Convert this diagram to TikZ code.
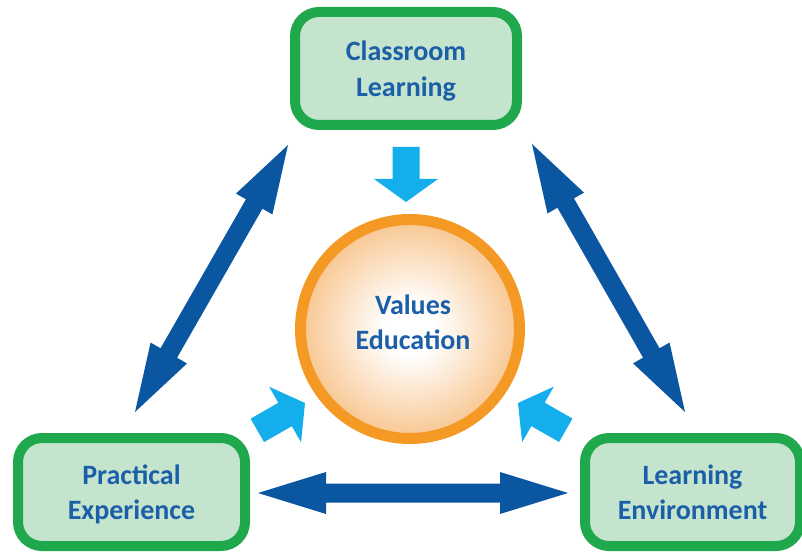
\documentclass[tikz,border=0pt]{standalone}
\usepackage{fontspec}
\setmainfont{Carlito}
\usetikzlibrary{calc}
\definecolor{boxgreen}{HTML}{20A84C}
\definecolor{boxfill}{HTML}{C4E4CD}
\definecolor{textblue}{HTML}{1B5FA8}
\definecolor{darkarrow}{HTML}{0B56A1}
\definecolor{lightarrow}{HTML}{13AEEB}
\definecolor{ringorange}{HTML}{F49A24}
\definecolor{peach}{HTML}{F8C690}
\pgfdeclareradialshading{glow}{\pgfpoint{0bp}{0bp}}{color(0bp)=(white); color(6bp)=(white); color(25bp)=(peach); color(50bp)=(peach)}
\tikzset{
  topic/.style={rectangle, rounded corners=24pt, draw=boxgreen, line width=10pt,
    fill=boxfill, align=center, text=textblue, inner sep=0pt, text depth=0pt,
    font=\bfseries\fontsize{28}{35.5}\selectfont},
  coretext/.style={align=center, text=textblue, inner sep=0pt,
    font=\bfseries\fontsize{28}{35}\selectfont},
  twowayfill/.style={fill=darkarrow},
  feedfill/.style={fill=lightarrow}
}
\newcommand\twoway[2]{%
  \fill[twowayfill] (#1)
    -- ($(#1)!68pt!(#2)!21pt!90:(#2)$)
    -- ($(#1)!68pt!(#2)!9.5pt!90:(#2)$)
    -- ($(#2)!68pt!(#1)!9.5pt!-90:(#1)$)
    -- ($(#2)!68pt!(#1)!21pt!-90:(#1)$)
    -- (#2)
    -- ($(#2)!68pt!(#1)!21pt!90:(#1)$)
    -- ($(#2)!68pt!(#1)!9.5pt!90:(#1)$)
    -- ($(#1)!68pt!(#2)!9.5pt!-90:(#2)$)
    -- ($(#1)!68pt!(#2)!21pt!-90:(#2)$)
    -- cycle;}
\newcommand\feedarrow[2]{%
  \fill[feedfill] (#1)
    -- ($(#1)!-23pt!(#2)!32pt!90:(#1)$)
    -- ($(#1)!-23pt!(#2)!13.5pt!90:(#1)$)
    -- ($(#1)!-55pt!(#2)!13.5pt!90:(#1)$)
    -- ($(#1)!-55pt!(#2)!13.5pt!-90:(#1)$)
    -- ($(#1)!-23pt!(#2)!13.5pt!-90:(#1)$)
    -- ($(#1)!-23pt!(#2)!32pt!-90:(#1)$)
    -- cycle;}
\begin{document}
\begin{tikzpicture}[x=1pt,y=-1pt]
\useasboundingbox (0,0) rectangle (802,553);
% boxes
\node[topic, minimum width=222pt, minimum height=113pt] (classroom) at (406,68.5) {Classroom\\Learning};
\node[topic, minimum width=227pt, minimum height=108pt] (practical) at (131.5,492) {Practical\\Experience};
\node[topic, minimum width=215pt, minimum height=108pt] (environment) at (692.5,492) {Learning\\Environment};
% centre circle
\node[circle, draw=ringorange, line width=11pt, minimum size=219pt, shading=glow, inner sep=0pt] (core) at (410,329) {};
\node[coretext] (corelabel) at (413,322.5) {Values\\Education};
% two-way arrows
\coordinate (l1) at (135,412);
\coordinate (l2) at (288,145);
\coordinate (r1) at (532,144);
\coordinate (r2) at (685,412);
\coordinate (h1) at (258,493);
\coordinate (h2) at (568,493);
\twoway{l1}{l2}
\twoway{r1}{r2}
\twoway{h1}{h2}
% feeding arrows
\coordinate (t1) at (406,202);
\coordinate (aim1) at (406,329);
\coordinate (t2) at (305,403);
\coordinate (t3) at (518,403);
\coordinate (aim2) at (411,342);
\feedarrow{t1}{aim1}
\feedarrow{t2}{aim2}
\feedarrow{t3}{aim2}
\end{tikzpicture}
\end{document}
